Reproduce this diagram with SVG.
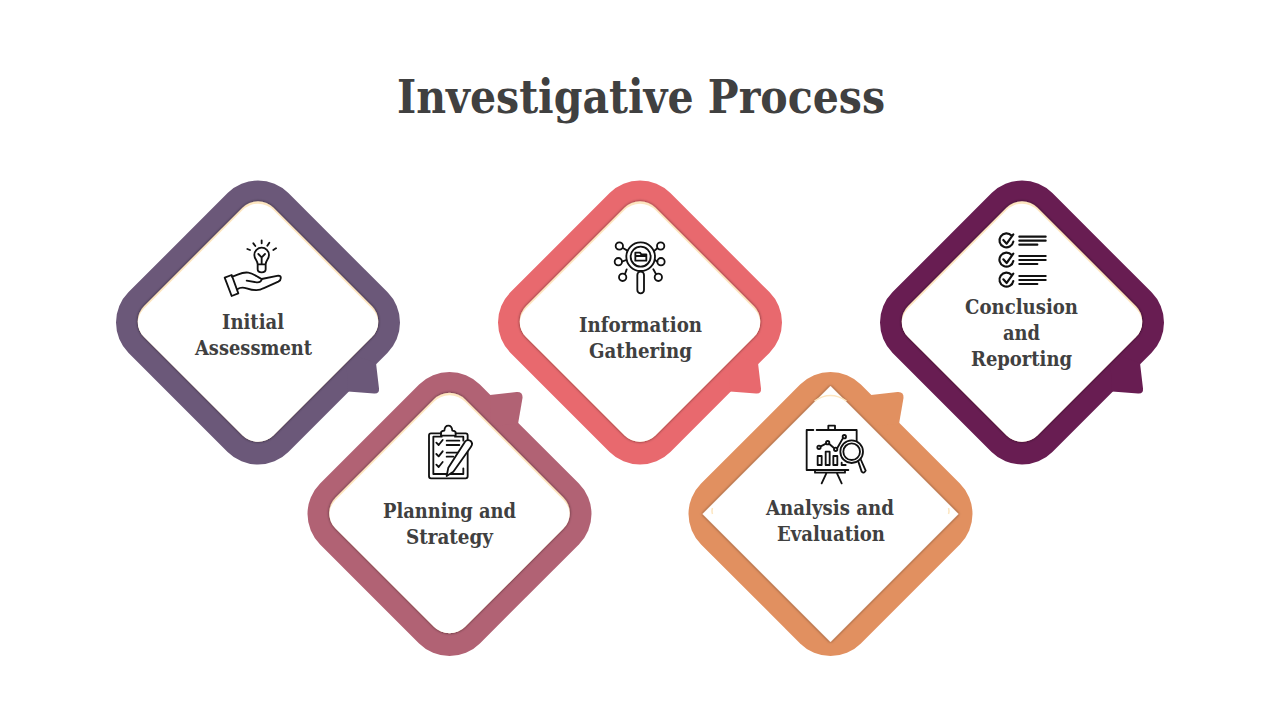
<svg xmlns="http://www.w3.org/2000/svg" width="1280" height="720" viewBox="0 0 1280 720">
<style>
text{font-family:"DejaVu Serif Condensed","DejaVu Serif","Liberation Serif",serif;font-weight:700;fill:#404040;text-anchor:middle}
.title{font-size:46px}
.lbl{font-size:21px}
.ic{fill:none;stroke:#111;stroke-width:5.500;stroke-linecap:round;stroke-linejoin:round}
.thick{stroke-width:6.500}
.glow{fill:#fde6c0;filter:url(#sh)}
.in{fill:#fff}
</style>
<defs>
<filter id="sh" x="-20%" y="-20%" width="140%" height="140%"><feDropShadow dx="0" dy="0" stdDeviation="1.700" flood-color="#000" flood-opacity=".6"/></filter>
<rect id="outer" x="-113" y="-113" width="226" height="226" rx="43" transform="rotate(45)"/>
<rect id="inner" x="-91.500" y="-91.500" width="183" height="183" rx="22" transform="translate(0 -1) rotate(45)"/>
<clipPath id="innerClip"><rect x="-91.500" y="-91.500" width="183" height="183" rx="22" transform="translate(0 -1) rotate(45)"/></clipPath>
<path id="tailBR" d="M88,30 L118,40.500 L121,66 Q121.500,71.500 116,71 L90,69 Z"/>
<path id="tailTR" d="M40.500,-119 L67,-122 Q73.500,-122.500 73,-116 L68.500,-90 L41,-88 Z"/>
<g id="face"><use href="#inner" class="glow"/><g clip-path="url(#innerClip)"><use href="#inner" class="in" y="2.500"/></g></g>
</defs>
<rect width="1280" height="720" fill="#fff"/>
<text id="title" class="title" x="641" y="113" textLength="488" lengthAdjust="spacingAndGlyphs">Investigative Process</text>

<g id="node-initial" transform="translate(258 322.500)">
<g fill="#6b5879"><use href="#outer"/><use href="#tailBR"/></g>
<use href="#face"/>
</g>
<g id="node-planning" transform="translate(449.500 514)">
<g fill="#b16274"><use href="#outer"/><use href="#tailTR"/></g>
<use href="#face"/>
</g>
<g id="node-information" transform="translate(640 322.500)">
<g fill="#e8696e"><use href="#outer"/><use href="#tailBR"/></g>
<use href="#face"/>
</g>
<g id="node-analysis" transform="translate(830.500 514)">
<g fill="#e19060"><use href="#outer"/><use href="#tailTR"/></g>
<path d="M0,-128 L128,0 L0,128 L-128,0 Z" fill="#fff" filter="url(#sh)"/>
<path d="M-118,-6 Q-119,-3 -118,0 M118,-6 Q119,-3 118,0 M-16,-113 Q0,-124 16,-113" fill="none" stroke="#fde6c0" stroke-width="1.500"/>
</g>
<g id="node-conclusion" transform="translate(1022 322.500)">
<g fill="#681d52"><use href="#outer"/><use href="#tailBR"/></g>
<use href="#face"/>
</g>

<g id="labels">
<text class="lbl" x="253" y="329" textLength="62" lengthAdjust="spacingAndGlyphs">Initial</text>
<text class="lbl" x="253.500" y="355" textLength="117" lengthAdjust="spacingAndGlyphs">Assessment</text>
<text class="lbl" x="449.500" y="518" textLength="133" lengthAdjust="spacingAndGlyphs">Planning and</text>
<text class="lbl" x="449.500" y="544" textLength="87" lengthAdjust="spacingAndGlyphs">Strategy</text>
<text class="lbl" x="640.500" y="332" textLength="123" lengthAdjust="spacingAndGlyphs">Information</text>
<text class="lbl" x="640.500" y="358" textLength="103" lengthAdjust="spacingAndGlyphs">Gathering</text>
<text class="lbl" x="1021.500" y="314" textLength="113" lengthAdjust="spacingAndGlyphs">Conclusion</text>
<text class="lbl" x="1021.500" y="340" textLength="37" lengthAdjust="spacingAndGlyphs">and</text>
<text class="lbl" x="1021.500" y="366" textLength="101" lengthAdjust="spacingAndGlyphs">Reporting</text>
<text class="lbl" x="830" y="515" textLength="128" lengthAdjust="spacingAndGlyphs">Analysis and</text>
<text class="lbl" x="831" y="541" textLength="108" lengthAdjust="spacingAndGlyphs">Evaluation</text>
</g>

<g id="icon-bulb" class="ic" transform="translate(210 230) scale(.3333)">
<path d="M130,40L136,48M155,31V40M178,38L172,47M112,57L120,60M198,55L190,60"/>
<path d="M143,103C143,90 133,88 133,75A22,22 0 1 1 177,75C177,88 167,90 167,103ZM143,103V118Q143,127 155,127Q167,127 167,118V103M145,72L155,82L165,72M155,82V103"/>
<path d="M44,143L65,135L85,190L65,198Z"/>
<path d="M66,140C85,135 95,125 115,128C130,130 140,140 155,147L205,137C215,137 215,150 205,155L160,175C145,185 125,180 110,175C100,172 90,172 82,178"/>
<path d="M110,152L140,157C150,158 155,152 155,147"/>
</g>

<g id="icon-search" class="ic" transform="translate(600 230) scale(.3333)">
<circle cx="122" cy="80" r="43"/><circle cx="122" cy="80" r="30"/>
<rect x="112" y="125" width="20" height="65" rx="10"/>
<path d="M106,92V68H120L124,73H139V92ZM106,78H139"/>
<circle cx="58" cy="48" r="11"/><circle cx="182" cy="48" r="11"/><circle cx="55" cy="95" r="11"/><circle cx="183" cy="95" r="11"/><circle cx="68" cy="142" r="11"/><circle cx="175" cy="142" r="11"/>
<path d="M70,55L82,62M172,55L163,62M66,95L79,90M172,95L165,90M75,132L80,118M168,132L160,118"/>
</g>

<g id="icon-checklist" class="ic thick" transform="translate(985 225) scale(.3333)">
<g id="row"><path d="M80,32A21,21 0 1 0 85,50M55,45L65,56L85,28"/><path d="M103,35H182M103,47H182M103,59H157"/></g>
<use href="#row" y="58"/><use href="#row" y="118"/>
</g>

<g id="icon-clipboard" class="ic" transform="translate(415 420) scale(.3333)">
<path d="M78,40H48Q42,40 42,46V169Q42,175 48,175H152Q158,175 158,169V75M122,40H152Q158,40 158,46V60"/>
<path d="M120,50H145V62M145,145V162H55V50H80"/>
<path d="M78,47V38Q78,33 88,32C90,12 110,12 112,32Q122,33 122,38V47Z"/>
<path d="M64,68L71,75L83,60M64,102L71,109L83,94M64,134L71,141L83,126M95,62H133M95,75H133M95,98H128M95,110H115"/>
<path d="M150,65Q157,57 167,63Q175,71 168,80L115,155L95,168L100,143Z" fill="#fff"/>
</g>

<g id="icon-chart" class="ic" transform="translate(795 420) scale(.3333)">
<path d="M55,30H35V150H160M65,30H185V72M100,30V17H120V30"/>
<path d="M60,150V158H150V150M95,158L80,190M125,158L140,190"/>
<rect x="68" y="108" width="12" height="27"/><rect x="92" y="95" width="12" height="40"/><rect x="115" y="108" width="12" height="27"/><path d="M140,128V135H152"/>
<path d="M77,79L93,71M103,72L117,84M127,84L143,56"/>
<circle cx="72" cy="82" r="5"/><circle cx="98" cy="68" r="5"/><circle cx="122" cy="88" r="5"/><circle cx="148" cy="50" r="5"/>
<circle cx="170" cy="95" r="34" fill="#fff"/><circle cx="170" cy="95" r="25"/>
<path d="M190,125L200,155Q207,162 212,152L198,120"/>
</g>
</svg>
